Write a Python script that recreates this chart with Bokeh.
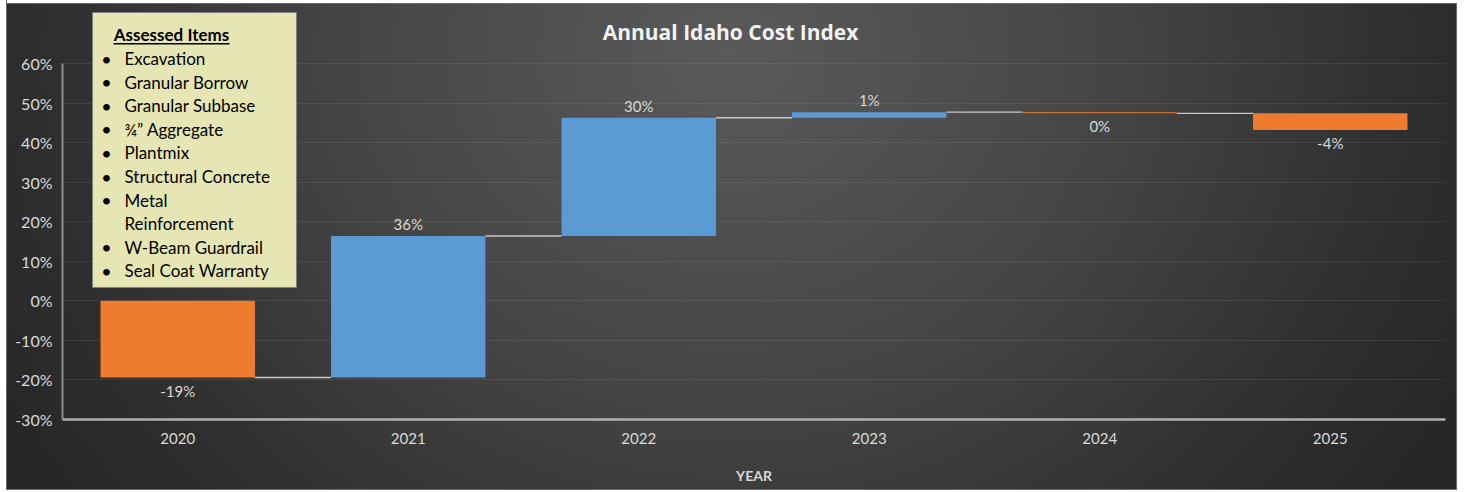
from bokeh.plotting import figure
from bokeh.models import (FactorRange, Range1d, ColumnDataSource, FixedTicker,
                          PrintfTickFormatter, Label, BoxAnnotation)
from bokeh.transform import dodge
from bokeh.embed import file_html
from bokeh.resources import INLINE
from bokeh.core.properties import value

# ---------------- data ----------------
years = ["2020", "2021", "2022", "2023", "2024", "2025"]
changes = [-19.4, 35.8, 29.9, 1.4, -0.3, -4.2]          # annual change, %
y_ticks = [-30, -20, -10, 0, 10, 20, 30, 40, 50, 60]
title_text = "Annual Idaho Cost Index"
x_label = "YEAR"
legend_title = "Assessed Items"
assessed_items = ["Excavation", "Granular Borrow", "Granular Subbase",
                  "\u00be\u201d Aggregate", "Plantmix", "Structural Concrete",
                  "Metal\nReinforcement", "W-Beam Guardrail", "Seal Coat Warranty"]

# ---------------- derived waterfall geometry ----------------
starts, ends = [], []
run = 0.0
for c in changes:
    starts.append(run)
    run += c
    ends.append(run)
bottoms = [min(s, e) for s, e in zip(starts, ends)]
tops = [max(s, e) for s, e in zip(starts, ends)]
BLUE, ORANGE = "#5b9bd5", "#ef7b2e"
colors = [BLUE if c >= 0 else ORANGE for c in changes]
labels = [f"{round(c)}%" for c in changes]

bars = ColumnDataSource(dict(x=years, bottom=bottoms, top=tops, color=colors))
pos = ColumnDataSource(dict(x=[y for y, c in zip(years, changes) if c >= 0],
                            y=[t for t, c in zip(tops, changes) if c >= 0],
                            t=[l for l, c in zip(labels, changes) if c >= 0]))
neg = ColumnDataSource(dict(x=[y for y, c in zip(years, changes) if c < 0],
                            y=[b for b, c in zip(bottoms, changes) if c < 0],
                            t=[l for l, c in zip(labels, changes) if c < 0]))
conn = ColumnDataSource(dict(x0=years[:-1], x1=years[1:], y=ends[:-1]))

# ---------------- layout ----------------
W, H = 1457, 490
AX_TOP_PX = 63          # pixel row of the 60% tick (frame extends above it for title/legend)
AX_BOT_PX = 419         # pixel row of the x axis
y_lo, y_hi = y_ticks[0], y_ticks[-1]
px_per_unit = (AX_BOT_PX - AX_TOP_PX) / (y_hi - y_lo)
y_top = y_hi + AX_TOP_PX / px_per_unit

FONT = "Lato"
p = figure(width=W, height=H, output_backend="svg", toolbar_location=None,
           x_range=FactorRange(factors=years, range_padding=0),
           y_range=Range1d(y_lo, y_top),
           min_border_left=62, min_border_right=12, min_border_top=0,
           min_border_bottom=H - AX_BOT_PX)
p.border_fill_color = None
p.background_fill_color = None
p.outline_line_color = None
p.styles = {"background":
            "linear-gradient(to right, #ffffff 0 6px, #6a6a6a 6px 7px, transparent 7px), "
            "linear-gradient(to bottom, #ffffff 0 3px, #6a6a6a 3px 4px, transparent 4px), "
            "linear-gradient(to left, #6a6a6a 0 1px, transparent 1px), "
            "linear-gradient(to top, #6a6a6a 0 1px, transparent 1px), "
            "radial-gradient(ellipse 58% 150% at 50% 12%, "
            "#5a5a5a 0%, #454545 45%, #2f2f2f 80%, #262626 100%)"}

BW = 0.67
p.segment(x0=dodge("x0", BW / 2, range=p.x_range), x1=dodge("x1", -BW / 2, range=p.x_range),
          y0="y", y1="y", source=conn, line_color="#c8c8c8", line_width=1.4)
p.vbar(x="x", bottom="bottom", top="top", width=BW, source=bars,
       fill_color="color", line_color=None)

p.text(x="x", y="y", text="t", source=pos, text_align="center", text_baseline="bottom",
       y_offset=-3, text_color="#d9d9d9", text_font=value(FONT), text_font_size="15px")
p.text(x="x", y="y", text="t", source=neg, text_align="center", text_baseline="top",
       y_offset=4, text_color="#d9d9d9", text_font=value(FONT), text_font_size="15px")

# axes
p.xgrid.grid_line_color = None
p.ygrid.grid_line_color = "#ffffff"
p.ygrid.grid_line_alpha = 0.08
p.ygrid.ticker = FixedTicker(ticks=y_ticks)

p.yaxis.ticker = FixedTicker(ticks=y_ticks)
p.yaxis.bounds = (y_lo, y_hi)
p.yaxis.formatter = PrintfTickFormatter(format="%d%%")
p.yaxis.axis_line_color = "#8e8e8e"
p.yaxis.axis_line_width = 2
p.xaxis.axis_line_color = "#b0b0b0"
p.xaxis.axis_line_width = 2.5
for ax in (p.xaxis, p.yaxis):
    ax.major_tick_line_color = None
    ax.minor_tick_line_color = None
    ax.major_tick_in = 0
    ax.major_tick_out = 0
    ax.major_label_text_color = "#d9d9d9"
    ax.major_label_text_font = FONT
    ax.major_label_text_font_size = "15px"
p.yaxis.major_label_text_font_size = "16px"
p.yaxis.major_label_standoff = 10
p.xaxis.major_label_standoff = 13
p.xaxis.axis_label = x_label
p.xaxis.axis_label_text_font = FONT
p.xaxis.axis_label_text_font_style = "bold"
p.xaxis.axis_label_text_font_size = "14px"
p.xaxis.axis_label_text_color = "#d9d9d9"
p.xaxis.axis_label_standoff = 20

# title (frame-relative screen coordinates, y measured up from the x axis)
p.add_layout(Label(x=668, y=388, x_units="screen", y_units="screen", text=title_text,
                   text_align="center", text_baseline="middle", text_color="#f2f2f2",
                   text_font="Open Sans", text_font_style="bold", text_font_size="21px"))

# legend box of assessed items
p.add_layout(BoxAnnotation(left=30, right=234, top=407, bottom=132,
                           left_units="screen", right_units="screen",
                           top_units="screen", bottom_units="screen",
                           fill_color="#e6e6b4", fill_alpha=1.0,
                           line_color="#808080", line_width=1, line_alpha=1.0))
p.add_layout(Label(x=109, y=385, x_units="screen", y_units="screen", text=legend_title,
                   text_align="center", text_baseline="middle", text_color="#000000",
                   text_font=FONT, text_font_style="bold", text_font_size="17px"))
p.add_layout(BoxAnnotation(left=51, right=167, top=376.5, bottom=375,
                           left_units="screen", right_units="screen",
                           top_units="screen", bottom_units="screen",
                           fill_color="#000000", fill_alpha=1.0, line_color=None))
LINE = 23.6
yy = 361
for item in assessed_items:
    parts = item.split("\n")
    p.add_layout(Label(x=44, y=yy, x_units="screen", y_units="screen", text="\u2022",
                       text_align="center", text_baseline="middle", text_color="#000000",
                       text_font=FONT, text_font_size="18px"))
    for part in parts:
        p.add_layout(Label(x=62, y=yy, x_units="screen", y_units="screen", text=part,
                           text_align="left", text_baseline="middle", text_color="#000000",
                           text_font=FONT, text_font_size="17px"))
        yy -= LINE

open("out.html", "w").write(file_html(p, INLINE))
